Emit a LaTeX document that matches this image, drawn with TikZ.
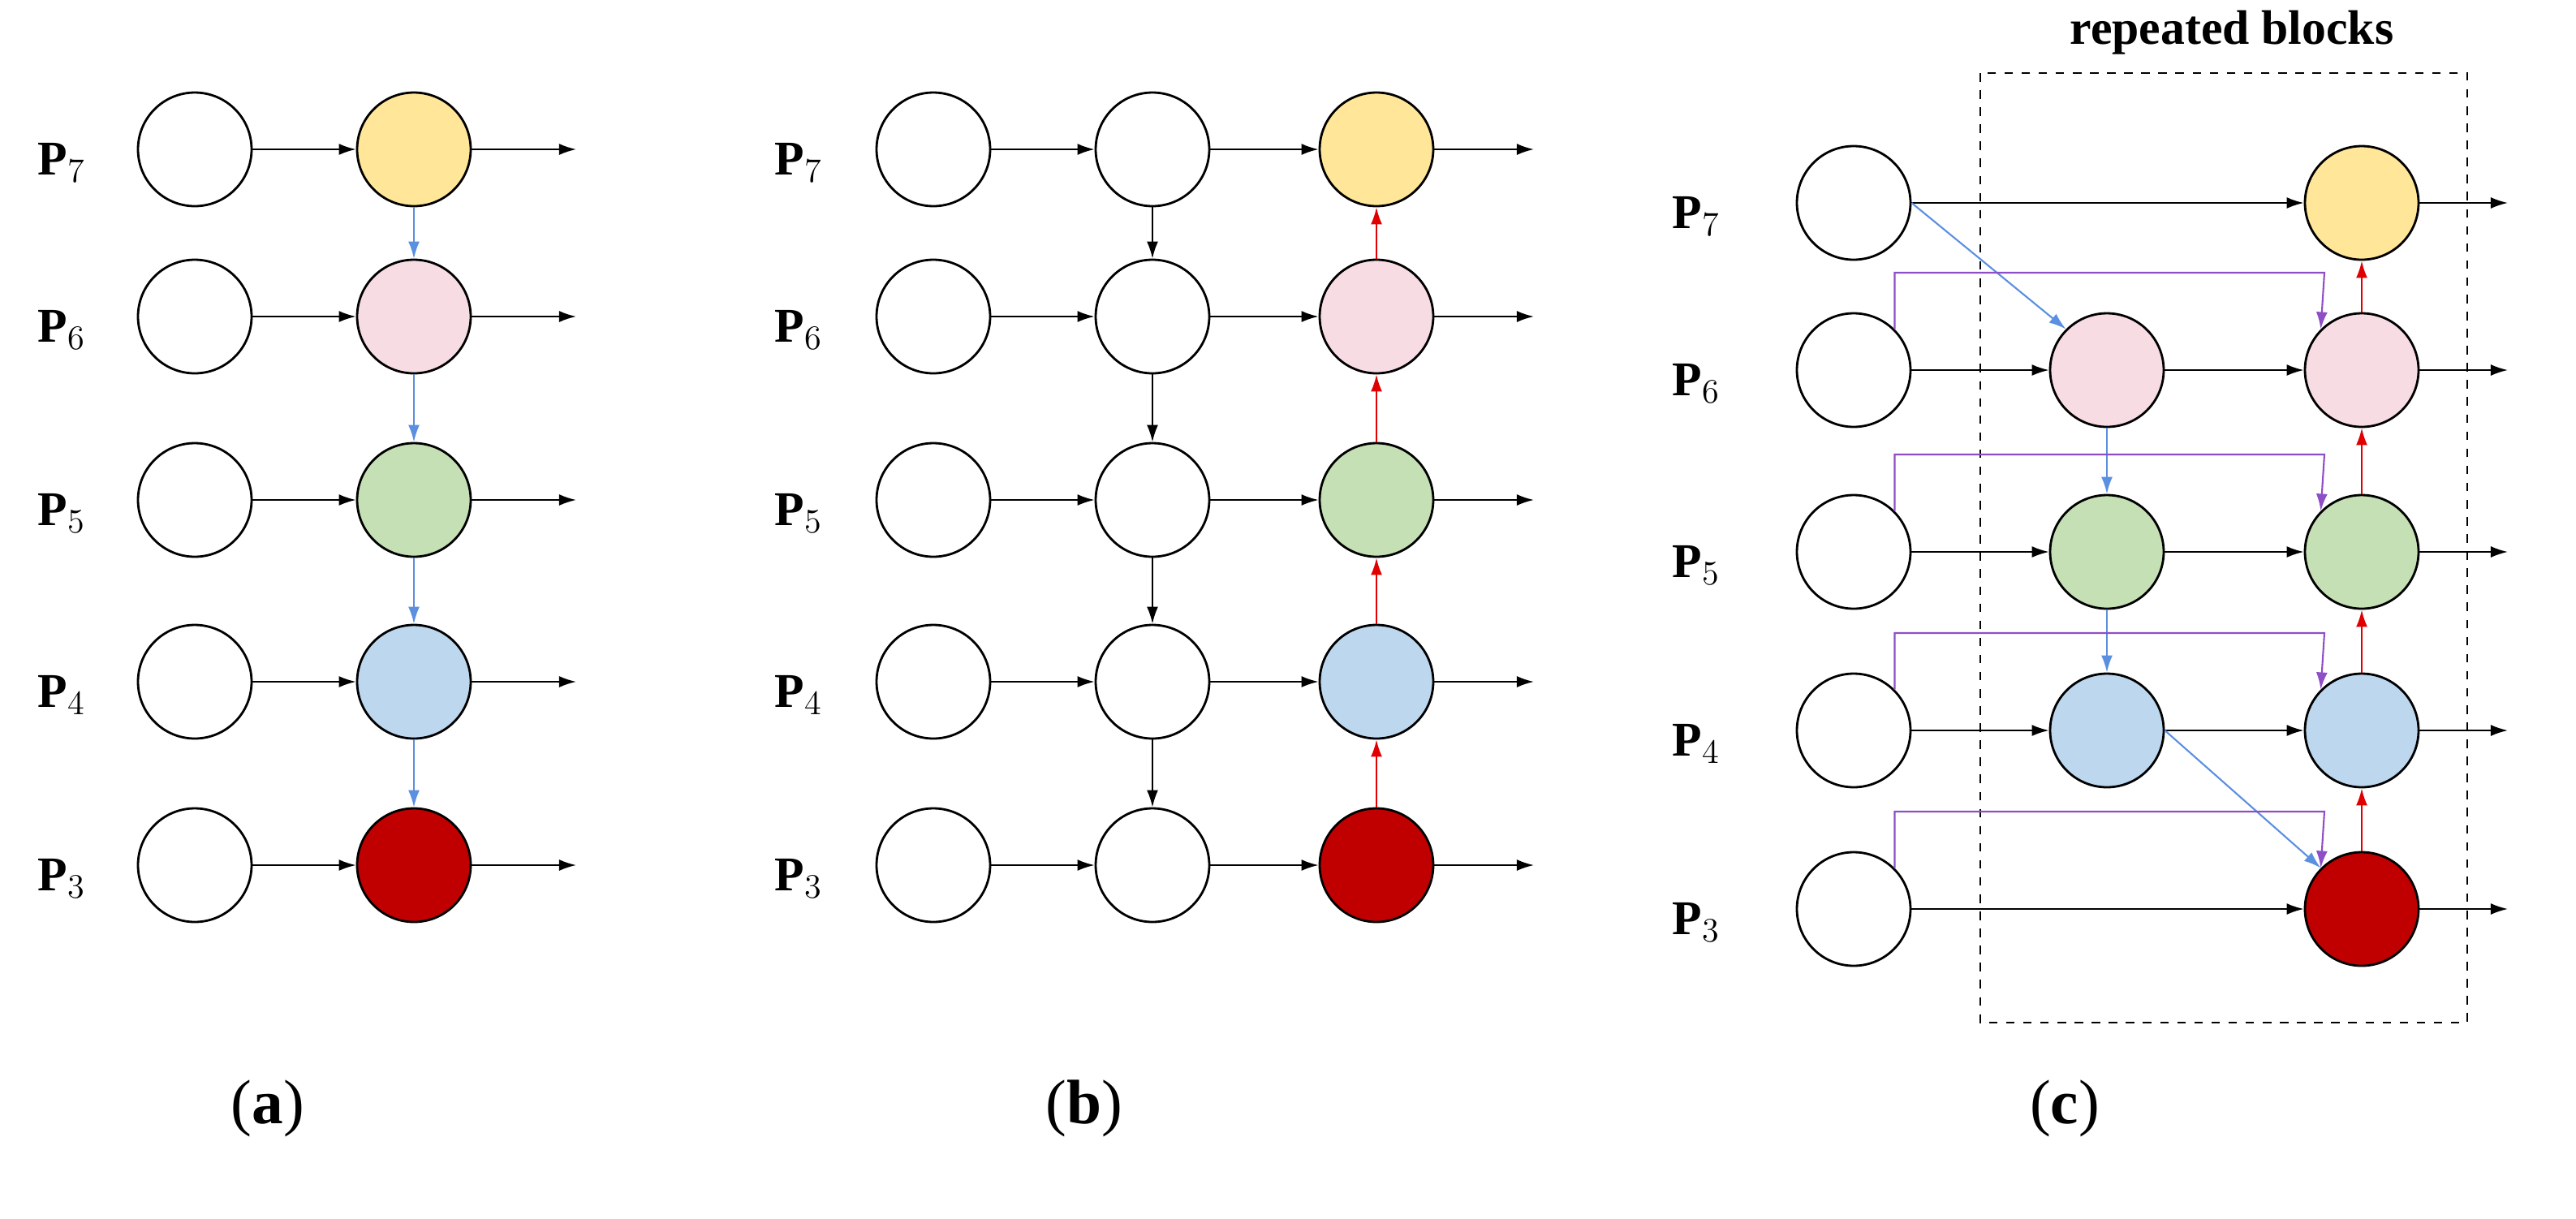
\documentclass[tikz,border=0pt]{standalone}
\usepackage{fontspec}
\setmainfont{Liberation Serif}
\usetikzlibrary{arrows.meta}
\definecolor{cy}{HTML}{FFE699}\definecolor{cp}{HTML}{F8DCE4}\definecolor{cg}{HTML}{C5E0B4}
\definecolor{cb}{HTML}{BDD7EE}\definecolor{cr}{HTML}{C00000}
\definecolor{bl}{HTML}{5B8FE0}\definecolor{rd}{HTML}{E00000}\definecolor{pu}{HTML}{8E4EC6}
\begin{document}
\begin{tikzpicture}[x=0.02cm,y=-0.02cm,
 c/.style={circle,draw,thick,minimum size=1.4cm,inner sep=0},
 lab/.style={font=\fontsize{17}{20}\selectfont},
 captxt/.style={font=\fontsize{22}{26}\selectfont},
 a/.style={-{Latex[length=6pt,width=4pt]},semithick},
 bA/.style={a,bl},rA/.style={a,rd},pA/.style={a,pu}]
\useasboundingbox (0,0) rectangle (1587,751);
% panel a
\foreach \n/\y/\f in {7/92/cy,6/195/cp,5/308/cg,4/420/cb,3/533/cr}{
 \node[lab] at (38,\y+8) {\textbf{P}$_{\n}$};
 \node[c] (aL\n) at (120,\y) {};
 \node[c,fill=\f] (aR\n) at (255,\y) {};
 \coordinate (aO\n) at (355,\y);
 \draw[a] (aL\n)--(aR\n); \draw[a] (aR\n)--(aO\n);}
\foreach \p/\q in {7/6,6/5,5/4,4/3} \draw[bA] (aR\p)--(aR\q);
\node[captxt] at (165,683) {(\textbf{a})};
% panel b
\foreach \n/\y/\f in {7/92/cy,6/195/cp,5/308/cg,4/420/cb,3/533/cr}{
 \node[lab] at (492,\y+8) {\textbf{P}$_{\n}$};
 \node[c] (bL\n) at (575,\y) {};
 \node[c] (bM\n) at (710,\y) {};
 \node[c,fill=\f] (bR\n) at (848,\y) {};
 \coordinate (bO\n) at (945,\y);
 \draw[a] (bL\n)--(bM\n); \draw[a] (bM\n)--(bR\n); \draw[a] (bR\n)--(bO\n);}
\foreach \p/\q in {7/6,6/5,5/4,4/3}{\draw[a] (bM\p)--(bM\q); \draw[rA] (bR\q)--(bR\p);}
\node[captxt] at (668,683) {(\textbf{b})};
% panel c
\draw[dashed,thick] (1220,45) rectangle (1520,630);
\node[lab] at (1375,20) {\textbf{repeated blocks}};
\foreach \n/\y/\f in {7/125/cy,6/228/cp,5/340/cg,4/450/cb,3/560/cr}{
 \node[lab] at (1045,\y+8) {\textbf{P}$_{\n}$};
 \node[c] (cL\n) at (1142,\y) {};
 \node[c,fill=\f] (cR\n) at (1455,\y) {};
 \coordinate (cO\n) at (1545,\y);
 \draw[a] (cR\n)--(cO\n);}
\foreach \n/\y/\f in {6/228/cp,5/340/cg,4/450/cb}{
 \node[c,fill=\f] (cM\n) at (1298,\y) {};
 \draw[a] (cL\n)--(cM\n); \draw[a] (cM\n)--(cR\n);}
\draw[a] (cL7)--(cR7); \draw[a] (cL3)--(cR3);
\foreach \p/\q in {7/6,6/5,5/4,4/3} \draw[rA] (cR\q)--(cR\p);
\draw[bA] (cM6)--(cM5); \draw[bA] (cM5)--(cM4);
\draw[bA] (cL7.east)--(cM6.north west); \draw[bA] (cM4.east)--(cR3.north west);
\foreach \n/\y in {6/228,5/340,4/450,3/560}
 \draw[pA] (cL\n.north east) |- (1432,\y-60) -- (cR\n.north west);
\node[captxt] at (1272,683) {(\textbf{c})};
\end{tikzpicture}
\end{document}
